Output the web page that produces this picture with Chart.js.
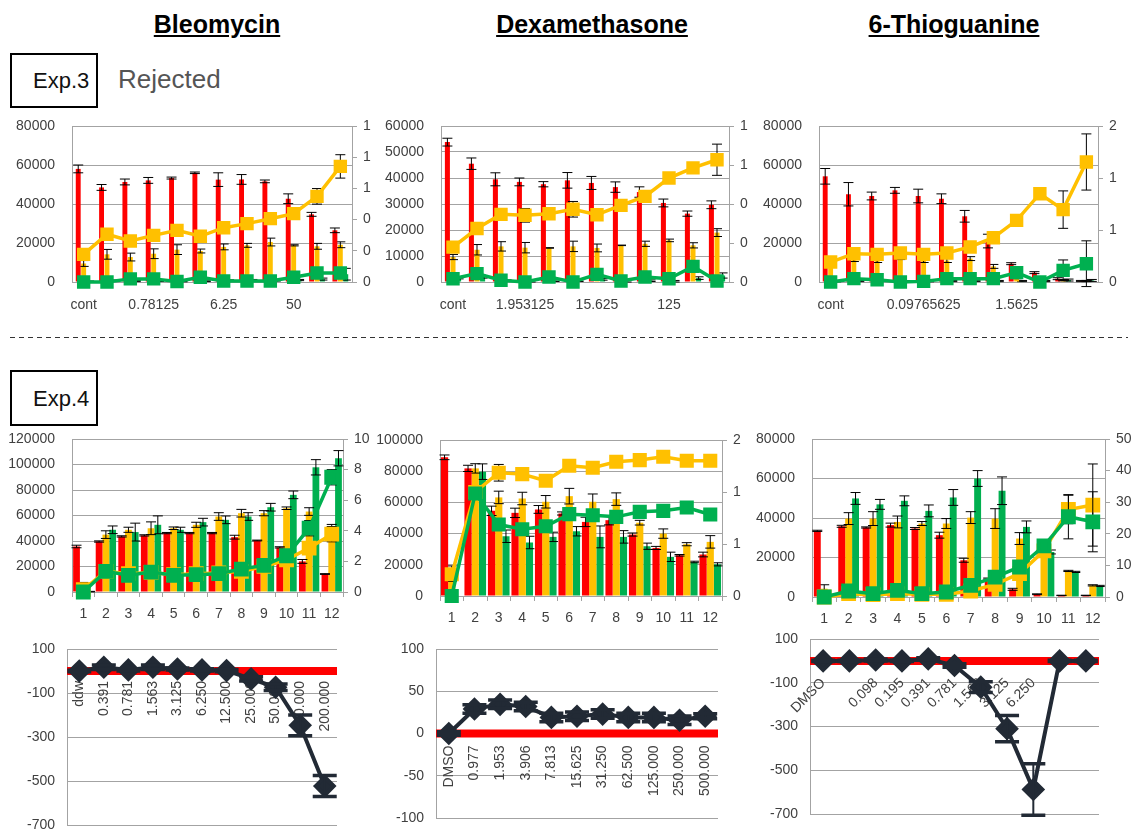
<!DOCTYPE html>
<html>
<head>
<meta charset="utf-8">
<script src="https://cdn.jsdelivr.net/npm/chart.js@4.4.0/dist/chart.umd.min.js"></script>
<style>
  body { margin: 0; width: 1137px; height: 831px; position: relative; background: #fff; overflow: hidden;
         font-family: 'Liberation Sans', Arial, sans-serif; }
  .title { position: absolute; top: 12px; font-size: 25px; line-height: 25px; font-weight: bold;
           text-decoration: underline; transform: translateX(-50%); white-space: nowrap; color: #000; }
  .exp { position: absolute; left: 10px; width: 88px; border: 2px solid #000; box-sizing: border-box;
         font-size: 22px; color: #111; }
  .exp span { position: absolute; left: 21px; }
  .note { position: absolute; left: 118px; top: 66px; font-size: 26px; line-height: 26px; color: #555; }
  .dash { position: absolute; left: 10px; top: 337px; width: 1118px; height: 1px;
          background: repeating-linear-gradient(to right, #333 0 5px, transparent 5px 9px); }
</style>
</head>
<body>
<div class="title" style="left:217px">Bleomycin</div>
<div class="title" style="left:592px">Dexamethasone</div>
<div class="title" style="left:954px">6-Thioguanine</div>
<div class="exp" style="top:53px;height:55px"><span style="top:13px">Exp.3</span></div>
<div class="note">Rejected</div>
<div class="dash"></div>
<div class="exp" style="top:370px;height:56px"><span style="top:14px">Exp.4</span></div>

<script>
// Exp.3 Bleomycin
const exp3BleoLabels = ['cont', '0.1953125', '0.390625', '0.78125', '1.5625', '3.125', '6.25', '12.5', '25', '50', '100', '200'];
const exp3BleoRed = [58000, 48500, 51300, 52100, 53300, 56000, 52500, 52600, 51600, 42700, 34700, 26500];
const exp3BleoRedErr = [2000, 1500, 1500, 1500, 500, 400, 3500, 2500, 700, 2500, 1000, 1200];
const exp3BleoOrange = [9500, 14200, 12800, 14500, 16600, 15900, 18000, 18800, 20500, 18800, 18300, 19100];
const exp3BleoOrangeErr = [1500, 2500, 2000, 2500, 2500, 1000, 1500, 1000, 2000, 300, 1500, 1500];
const exp3BleoGreen = [300, 700, 500, 600, 300, 400, 800, 1000, 800, 1000, 1500, 4000];
const exp3BleoGreenErr = [200, 300, 300, 300, 200, 200, 300, 300, 300, 300, 500, 3000];
const exp3BleoYLine = [0.177, 0.306, 0.263, 0.299, 0.331, 0.293, 0.348, 0.374, 0.406, 0.438, 0.549, 0.741];
const exp3BleoYLineErr = [0.01, 0.02, 0.01, 0.02, 0.015, 0.01, 0.01, 0.01, 0.02, 0.01, 0.05, 0.075];
const exp3BleoGLine = [0, 0, 0.02, 0.02, 0.003, 0.03, 0.006, 0.006, 0.006, 0.03, 0.058, 0.058];
const exp3BleoGLineErr = [0, 0, 0, 0, 0, 0, 0, 0, 0, 0, 0, 0];

// Exp.3 Dexamethasone
const exp3DexLabels = ['cont', '0.48828125', '0.9765625', '1.953125', '3.90625', '7.8125', '15.625', '31.25', '62.5', '125', '250', '500'];
const exp3DexRed = [53800, 45500, 39500, 38500, 37600, 39100, 38100, 36500, 34600, 30400, 26300, 29700];
const exp3DexRedErr = [1500, 2200, 2500, 1500, 1000, 3000, 2500, 2000, 2000, 1500, 1000, 1500];
const exp3DexOrange = [9600, 12400, 13700, 13200, 13100, 13700, 13100, 14100, 14700, 16000, 14100, 19000];
const exp3DexOrangeErr = [1000, 2000, 1800, 2000, 100, 2000, 1500, 100, 1000, 500, 1000, 1500];
const exp3DexGreen = [1500, 2000, 500, 300, 500, 500, 1000, 300, 500, 300, 1500, 2500];
const exp3DexGreenErr = [300, 500, 300, 300, 300, 300, 300, 300, 300, 300, 500, 1000];
const exp3DexYLine = [0.179, 0.274, 0.347, 0.342, 0.350, 0.373, 0.345, 0.393, 0.439, 0.533, 0.585, 0.627];
const exp3DexYLineErr = [0.01, 0.02, 0.025, 0.035, 0.005, 0.04, 0.02, 0.005, 0.01, 0.02, 0.005, 0.08];
const exp3DexGLine = [0.017, 0.043, 0.009, 0, 0.026, 0, 0.039, 0.005, 0.026, 0.017, 0.080, 0.005];
const exp3DexGLineErr = [0, 0, 0, 0, 0, 0, 0, 0, 0, 0, 0.01, 0];

// Exp.3 6-Thioguanine
const exp3TgLabels = ['cont', '0.012207031', '0.024414063', '0.048828125', '0.09765625', '0.1953125', '0.390625', '0.78125', '1.5625', '3.125', '6.25', '12.5'];
const exp3TgRed = [54200, 45000, 44100, 47000, 44100, 42700, 33700, 21000, 9400, 4800, 1700, 500];
const exp3TgRedErr = [4000, 6000, 2000, 1500, 3500, 2500, 3000, 3500, 500, 500, 500, 300];
const exp3TgOrange = [8000, 12000, 11000, 12000, 11000, 11000, 12000, 8000, 2000, 1500, 1000, 500];
const exp3TgOrangeErr = [500, 1500, 1000, 500, 1000, 1000, 1000, 1000, 300, 300, 300, 300];
const exp3TgGreen = [200, 500, 800, 400, 400, 500, 600, 500, 500, 500, 1000, 800];
const exp3TgGreenErr = [100, 300, 400, 300, 300, 300, 300, 300, 300, 300, 500, 500];
const exp3TgYLine = [0.192, 0.272, 0.266, 0.279, 0.266, 0.279, 0.337, 0.426, 0.593, 0.849, 0.696, 1.154];
const exp3TgYLineErr = [0.01, 0.01, 0.01, 0.01, 0.01, 0.01, 0.01, 0.04, 0.015, 0.01, 0.18, 0.27];
const exp3TgGLine = [0, 0.032, 0.022, 0, 0.006, 0.032, 0.032, 0.032, 0.09, 0, 0.112, 0.176];
const exp3TgGLineErr = [0, 0, 0, 0, 0, 0, 0, 0, 0, 0, 0.1, 0.22];

// Exp.4 (wells 1-12)
const exp4Labels = ['1', '2', '3', '4', '5', '6', '7', '8', '9', '10', '11', '12'];

const exp4BleoRed = [35700, 39600, 43600, 44400, 46200, 46200, 46200, 43000, 40400, 35000, 24000, 14100];
const exp4BleoRedErr = [1000, 500, 500, 500, 500, 500, 500, 1500, 300, 500, 1500, 300];
const exp4BleoOrange = [7000, 45000, 48800, 50000, 50000, 52700, 59200, 61800, 61800, 65700, 63100, 50000];
const exp4BleoOrangeErr = [500, 3000, 2000, 5000, 1000, 2000, 3000, 3000, 2000, 1000, 3000, 3000];
const exp4BleoGreen = [300, 48800, 47000, 52700, 48800, 54800, 56600, 59200, 66500, 76200, 97800, 104900];
const exp4BleoGreenErr = [200, 3000, 7000, 7000, 2000, 3000, 3000, 3000, 3000, 3000, 6000, 6000];
const exp4BleoYLine = [0.15, 1.35, 1.2, 1.28, 1.13, 1.2, 1.24, 1.35, 1.67, 2.1, 2.87, 3.78];
const exp4BleoYLineErr = [0, 0.1, 0.1, 0.1, 0.1, 0.1, 0.1, 0.1, 0.1, 0.2, 0.3, 0.5];
const exp4BleoGLine = [0, 1.35, 1.09, 1.3, 1.09, 1.13, 1.2, 1.5, 1.74, 2.37, 4.17, 7.5];
const exp4BleoGLineErr = [0, 0.1, 0.1, 0.1, 0.1, 0.1, 0.1, 0.1, 0.1, 0.2, 0.5, 0.5];

const exp4DexRed = [88900, 81800, 54600, 53300, 55500, 52900, 47500, 48600, 39400, 30800, 26100, 26600];
const exp4DexRedErr = [1500, 2000, 3000, 3000, 2500, 1000, 3000, 3000, 1000, 1000, 500, 1500];
const exp4DexOrange = [14300, 81800, 63200, 62500, 60400, 64000, 60400, 62100, 47000, 40000, 33200, 34700];
const exp4DexOrangeErr = [5000, 3000, 4000, 4000, 4000, 5000, 5000, 4000, 1500, 3000, 1000, 4000];
const exp4DexGreen = [0, 79700, 38300, 34300, 37900, 41500, 37900, 37900, 31900, 25100, 21800, 20300];
const exp4DexGreenErr = [0, 5000, 4000, 4000, 3000, 3000, 7000, 4000, 2000, 3000, 500, 1000];
const exp4DexYLine = [0.209, 1.0, 1.185, 1.172, 1.108, 1.253, 1.233, 1.291, 1.307, 1.339, 1.301, 1.301];
const exp4DexYLineErr = [0.02, 0.02, 0.08, 0.02, 0.03, 0.03, 0.03, 0.01, 0.03, 0.01, 0.01, 0.04];
const exp4DexGLine = [0, 0.986, 0.687, 0.642, 0.671, 0.787, 0.777, 0.761, 0.809, 0.819, 0.851, 0.784];
const exp4DexGLineErr = [0, 0.02, 0.02, 0.02, 0.02, 0.02, 0.02, 0.02, 0.02, 0.01, 0.02, 0.02];

const exp4TgRed = [33500, 35800, 35200, 36400, 34700, 31300, 18600, 9300, 3900, 1400, 800, 800];
const exp4TgRedErr = [300, 500, 300, 1000, 500, 1500, 1000, 300, 500, 200, 100, 100];
const exp4TgOrange = [4200, 39700, 39700, 38000, 37200, 37200, 40200, 39700, 29600, 22000, 13200, 5900];
const exp4TgOrangeErr = [2000, 3000, 3500, 3000, 1000, 2500, 3000, 5000, 3000, 1000, 300, 300];
const exp4TgGreen = [0, 49900, 46900, 48700, 43600, 50400, 60000, 53800, 35500, 22800, 12700, 5600];
const exp4TgGreenErr = [0, 3000, 2500, 2500, 3000, 4000, 4000, 7000, 3000, 1000, 300, 300];
const exp4TgYLine = [0, 1.06, 0.74, 1.06, 0.85, 0.85, 1.9, 4.0, 7.4, 14.6, 27.7, 29.1];
const exp4TgYLineErr = [0, 0, 0, 0, 0, 0, 0, 0, 0, 0, 4.5, 13];
const exp4TgGLine = [0, 1.9, 1.06, 2.1, 1.06, 1.59, 3.7, 6.3, 9.5, 16.2, 25.4, 23.8];
const exp4TgGLineErr = [0, 0, 0, 0, 0, 0, 0, 0, 0, 0.5, 7, 9.5];

// Exp.4 score rows
const bleoScoreLabels = ['ddw', '0.391', '0.781', '1.563', '3.125', '6.250', '12.500', '25.000', '50.000', '100.000', '200.000'];
const bleoScore = [0, 17, 5, 17, 9, 5, 2, -36, -74, -247, -523];
const bleoScoreErr = [3, 10, 5, 10, 5, 5, 5, 10, 15, 47, 48];

const dexScoreLabels = ['DMSO', '0.977', '1.953', '3.906', '7.813', '15.625', '31.250', '62.500', '125.000', '250.000', '500.000'];
const dexScore = [0, 29, 34.5, 32, 19, 20.4, 23, 19, 19, 15.7, 20.4];
const dexScoreErr = [2, 5, 5, 5, 5, 5, 5, 5, 5, 5, 3];

const tgScoreLabels = ['DMSO', '', '0.098', '0.195', '0.391', '0.781', '1.563', '3.125', '6.250', '', ''];
const tgScore = [0, 0, 4, 0, 9, -21, -120, -310, -588, 0, 0];
const tgScoreErr = [3, 3, 5, 3, 5, 8, 25, 60, 118, 3, 3];

const zeroLine = 0;

const RED = '#FF0000', YELLOW = '#FFC000', GREEN = '#00B050', NAVY = '#222A35';
const GRID = '#a3a3a3', TXT = '#404040', NONE = 'rgba(0,0,0,0)';

Chart.defaults.font.family = "'Liberation Sans', Arial, sans-serif";
Chart.defaults.font.size = 14;
Chart.defaults.color = TXT;
Chart.defaults.animation = false;
Chart.defaults.plugins.legend.display = false;
Chart.defaults.plugins.tooltip.enabled = false;

// error bars, drawn from the dataset's own scale
function drawErrors(chart, meta, ds) {
    if (!ds.errors) return;
    const ctx = chart.ctx;
    const ys = chart.scales[meta.yAxisID];
    const cap = ds.errCap || 5;
    ctx.save();
    ctx.strokeStyle = ds.errColor || '#000';
    meta.data.forEach((el, i) => {
        const e = ds.errors[i];
        if (!e) return;
        const v = ds.data[i];
        const y1 = ys.getPixelForValue(v + e);
        const y2 = ys.getPixelForValue(v - e);
        ctx.lineWidth = ds.errLine || 1;
        ctx.beginPath();
        ctx.moveTo(el.x, y1);
        ctx.lineTo(el.x, y2);
        ctx.stroke();
        ctx.lineWidth = ds.capLine || 1;
        ctx.beginPath();
        ctx.moveTo(el.x - cap, y1); ctx.lineTo(el.x + cap, y1);
        ctx.moveTo(el.x - cap, y2); ctx.lineTo(el.x + cap, y2);
        ctx.stroke();
    });
    ctx.restore();
}

const errorBars = {
    id: 'errorBars',
    beforeDatasetDraw(chart, args) {
        const ds = chart.data.datasets[args.index];
        if (ds.errUnder) drawErrors(chart, args.meta, ds);
    },
    afterDatasetDraw(chart, args) {
        const ds = chart.data.datasets[args.index];
        if (!ds.errUnder) drawErrors(chart, args.meta, ds);
    }
};

// thick red reference line at zero
const zeroBand = {
    id: 'zeroBand',
    beforeDatasetsDraw(chart) {
        const ctx = chart.ctx;
        const y = chart.scales.y.getPixelForValue(zeroLine);
        ctx.save();
        ctx.strokeStyle = RED;
        ctx.lineWidth = 8;
        ctx.beginPath();
        ctx.moveTo(chart.chartArea.left, y);
        ctx.lineTo(chart.chartArea.right, y);
        ctx.stroke();
        ctx.restore();
    }
};

function place(rect) {
    const c = document.createElement('canvas');
    c.width = rect.w;
    c.height = rect.h;
    c.style.cssText = `position:absolute;left:${rect.x}px;top:${rect.y}px;width:${rect.w}px;height:${rect.h}px`;
    document.body.appendChild(c);
    return c;
}

// gap between left labels and the axis is made with an invisible tick,
// so Chart.js does not push the plot top down for tick padding
function comboChart(rect, plot, s) {
    const leftW = plot.l - rect.x;
    const rightW = rect.x + rect.w - plot.r;
    const bottomH = rect.y + rect.h - plot.b;
    const lineSet = (data, errors, color, order) => ({
        type: 'line', data, errors, errUnder: true, yAxisID: 'y2', order,
        borderColor: color, backgroundColor: color, borderWidth: 3.5,
        pointStyle: 'rect', pointRadius: s.square, clip: false, errCap: 5
    });
    const barSet = (data, errors, color) => ({
        type: 'bar', data, errors, yAxisID: 'y', order: 2, backgroundColor: color,
        categoryPercentage: s.catPct, barPercentage: s.barPct, errCap: 5
    });
    return new Chart(place(rect), {
        data: {
            labels: s.labels,
            datasets: [
                lineSet(s.gLine, s.gLineErr, GREEN, 0),
                lineSet(s.yLine, s.yLineErr, YELLOW, 1),
                barSet(s.red, s.redErr, RED),
                barSet(s.orange, s.orangeErr, YELLOW),
                barSet(s.green, s.greenErr, GREEN)
            ]
        },
        options: {
            responsive: false,
            layout: { padding: { top: plot.t - rect.y, left: 0, right: 0, bottom: 0 } },
            scales: {
                x: {
                    grid: { drawOnChartArea: false, drawTicks: s.tickMarks, tickLength: 5, color: GRID, offset: true },
                    border: { color: GRID },
                    ticks: {
                        autoSkip: false, maxRotation: 0, padding: s.xPad,
                        callback: function (v, i) { return i % s.every === 0 ? this.getLabelForValue(v) : ''; }
                    },
                    afterFit: sc => { sc.height = bottomH; }
                },
                y: {
                    position: 'left', min: 0, max: s.yMax,
                    ticks: { stepSize: s.yStep, padding: 2, callback: v => String(v) },
                    grid: { color: GRID, tickColor: NONE, tickLength: 15 },
                    border: { color: GRID },
                    afterFit: sc => { sc.width = leftW; }
                },
                y2: {
                    position: 'right', min: 0, max: s.y2Max,
                    ticks: { stepSize: s.y2Step, padding: 6, callback: v => String(Math.round(v)) },
                    grid: { drawOnChartArea: false, color: GRID, tickLength: 5 },
                    border: { color: GRID },
                    afterFit: sc => { sc.width = rightW; }
                }
            }
        },
        plugins: [errorBars]
    });
}

function scoreChart(rect, plot, s) {
    const leftW = plot.l - rect.x;
    return new Chart(place(rect), {
        type: 'line',
        data: {
            labels: s.labels,
            datasets: [{
                data: s.values, errors: s.errors,
                borderColor: NAVY, backgroundColor: NAVY, borderWidth: 4,
                pointStyle: 'rectRot', pointRadius: 9, clip: false,
                errColor: NAVY, errCap: 12, errLine: 2, capLine: 3.5
            }]
        },
        options: {
            responsive: false,
            layout: { padding: { top: plot.t - rect.y, left: 0, right: rect.x + rect.w - plot.r, bottom: rect.y + rect.h - plot.b } },
            scales: {
                x: {
                    position: { y: zeroLine }, offset: true,
                    grid: { display: false, drawTicks: false },
                    border: { display: false },
                    ticks: { autoSkip: false, minRotation: s.rot, maxRotation: s.rot, padding: s.xPad }
                },
                y: {
                    min: s.min, max: s.max,
                    ticks: { stepSize: s.step, padding: 2, callback: v => String(v) },
                    grid: { color: GRID, tickColor: NONE, tickLength: 10 },
                    border: { color: GRID },
                    afterFit: sc => { sc.width = leftW; }
                }
            }
        },
        plugins: [zeroBand, errorBars]
    });
}

// Exp.3 row
comboChart({ x: 0, y: 110, w: 382, h: 205 }, { l: 72, r: 352, t: 126, b: 282 }, {
    labels: exp3BleoLabels, every: 3, tickMarks: false, xPad: 15, catPct: 0.7, barPct: 0.9, square: 7,
    red: exp3BleoRed, redErr: exp3BleoRedErr, orange: exp3BleoOrange, orangeErr: exp3BleoOrangeErr,
    green: exp3BleoGreen, greenErr: exp3BleoGreenErr, yLine: exp3BleoYLine, yLineErr: exp3BleoYLineErr,
    gLine: exp3BleoGLine, gLineErr: exp3BleoGLineErr, yMax: 80000, yStep: 20000, y2Max: 1, y2Step: 0.2
});
comboChart({ x: 372, y: 110, w: 388, h: 205 }, { l: 441, r: 729, t: 126, b: 282 }, {
    labels: exp3DexLabels, every: 3, tickMarks: false, xPad: 15, catPct: 0.7, barPct: 0.9, square: 7,
    red: exp3DexRed, redErr: exp3DexRedErr, orange: exp3DexOrange, orangeErr: exp3DexOrangeErr,
    green: exp3DexGreen, greenErr: exp3DexGreenErr, yLine: exp3DexYLine, yLineErr: exp3DexYLineErr,
    gLine: exp3DexGLine, gLineErr: exp3DexGLineErr, yMax: 60000, yStep: 10000, y2Max: 0.8, y2Step: 0.2
});
comboChart({ x: 750, y: 110, w: 387, h: 205 }, { l: 819, r: 1098, t: 126, b: 282 }, {
    labels: exp3TgLabels, every: 4, tickMarks: false, xPad: 15, catPct: 0.7, barPct: 0.9, square: 7,
    red: exp3TgRed, redErr: exp3TgRedErr, orange: exp3TgOrange, orangeErr: exp3TgOrangeErr,
    green: exp3TgGreen, greenErr: exp3TgGreenErr, yLine: exp3TgYLine, yLineErr: exp3TgYLineErr,
    gLine: exp3TgGLine, gLineErr: exp3TgGLineErr, yMax: 80000, yStep: 20000, y2Max: 1.5, y2Step: 0.5
});

// Exp.4 row
comboChart({ x: 0, y: 423, w: 382, h: 205 }, { l: 72, r: 343, t: 439, b: 592 }, {
    labels: exp4Labels, every: 1, tickMarks: true, xPad: 9, catPct: 0.9, barPct: 1, square: 8,
    red: exp4BleoRed, redErr: exp4BleoRedErr, orange: exp4BleoOrange, orangeErr: exp4BleoOrangeErr,
    green: exp4BleoGreen, greenErr: exp4BleoGreenErr, yLine: exp4BleoYLine, yLineErr: exp4BleoYLineErr,
    gLine: exp4BleoGLine, gLineErr: exp4BleoGLineErr, yMax: 120000, yStep: 20000, y2Max: 10, y2Step: 2
});
comboChart({ x: 368, y: 424, w: 392, h: 206 }, { l: 440, r: 722, t: 440, b: 596 }, {
    labels: exp4Labels, every: 1, tickMarks: true, xPad: 9, catPct: 0.92, barPct: 1, square: 7.5,
    red: exp4DexRed, redErr: exp4DexRedErr, orange: exp4DexOrange, orangeErr: exp4DexOrangeErr,
    green: exp4DexGreen, greenErr: exp4DexGreenErr, yLine: exp4DexYLine, yLineErr: exp4DexYLineErr,
    gLine: exp4DexGLine, gLineErr: exp4DexGLineErr, yMax: 100000, yStep: 20000, y2Max: 1.5, y2Step: 0.5
});
comboChart({ x: 745, y: 423, w: 392, h: 207 }, { l: 812, r: 1105, t: 439, b: 597 }, {
    labels: exp4Labels, every: 1, tickMarks: true, xPad: 9, catPct: 0.85, barPct: 1, square: 8,
    red: exp4TgRed, redErr: exp4TgRedErr, orange: exp4TgOrange, orangeErr: exp4TgOrangeErr,
    green: exp4TgGreen, greenErr: exp4TgGreenErr, yLine: exp4TgYLine, yLineErr: exp4TgYLineErr,
    gLine: exp4TgGLine, gLineErr: exp4TgGLineErr, yMax: 80000, yStep: 20000, y2Max: 50, y2Step: 10
});

// score row
scoreChart({ x: 0, y: 636, w: 360, h: 204 }, { l: 67, r: 337, t: 648, b: 825 }, {
    labels: bleoScoreLabels, values: bleoScore, errors: bleoScoreErr, rot: 90, xPad: 10, min: -700, max: 100, step: 200
});
scoreChart({ x: 380, y: 636, w: 380, h: 200 }, { l: 436, r: 718, t: 648, b: 818 }, {
    labels: dexScoreLabels, values: dexScore, errors: dexScoreErr, rot: 90, xPad: 12, min: -100, max: 100, step: 50
});
scoreChart({ x: 760, y: 626, w: 377, h: 202 }, { l: 810, r: 1099, t: 638, b: 814 }, {
    labels: tgScoreLabels, values: tgScore, errors: tgScoreErr, rot: 45, xPad: 14, min: -700, max: 100, step: 200
});
</script>
</body>
</html>
